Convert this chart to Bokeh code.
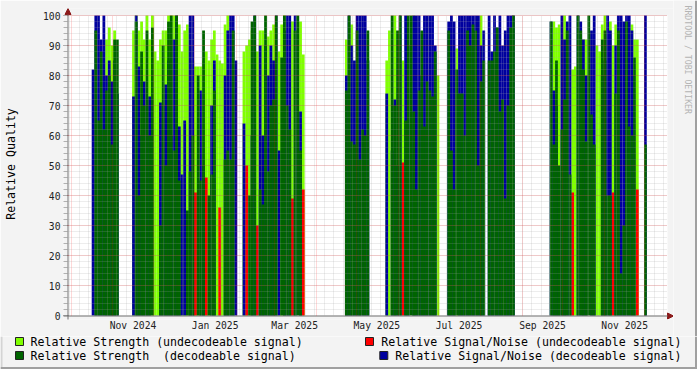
import numpy as np
import pandas as pd
from bokeh.plotting import figure
from bokeh.layouts import column, row
from bokeh.models import (Range1d, FixedTicker, DatetimeTickFormatter,
                          ColumnDataSource, BoxAnnotation, Arrow, NormalHead)
from bokeh.core.properties import value
from bokeh.embed import file_html
from bokeh.resources import INLINE

# ---------------- data ----------------
x_start = "2024-09-28 09:00"
x_end = "2025-12-17 19:00"
bin_days = 2

seg_start = ["2024-10-16 09:00", "2024-11-15 09:00", "2025-02-05 09:00",
             "2025-04-22 09:00", "2025-05-22 09:00", "2025-07-07 09:00",
             "2025-08-06 09:00", "2025-09-21 09:00", "2025-11-30 09:00"]
seg_bins = [10, 39, 23, 9, 20, 14, 10, 33, 1]

# Relative Strength (decodeable signal)
strength_dec = [
    0, 95, 65, 88, 62, 75, 80, 57, 92, 92,
    0, 98, 40, 88, 70, 95, 60, 96, 0, 0, 30, 90, 50, 98, 100, 55, 100, 45, 0, 0,
    35, 48, 60, 0, 80, 45, 95, 0, 40, 47, 75, 0, 0, 0, 52, 55, 52, 95, 0,
    0, 0, 40, 98, 100, 0, 42, 37, 100, 48, 70, 72, 100, 0, 86, 100, 70, 62, 0, 95, 100, 55, 0,
    75, 100, 58, 57, 95, 52, 62, 60, 95,
    0, 0, 100, 70, 95, 100, 0, 65, 100, 100, 68, 42, 75, 95, 63, 78, 75, 73, 88, 0,
    95, 55, 42, 82, 74, 74, 60, 95, 90, 97, 95, 50, 78, 85,
    85, 85, 88, 96, 68, 72, 39, 70, 96, 100,
    98, 57, 85, 50, 62, 72, 95, 47, 0, 0, 100, 95, 82, 58, 100, 67, 57, 0, 0, 92, 95, 40, 40, 0,
    74, 95, 14, 30, 98, 63, 60, 86, 0,
    57]

# Relative Signal/Noise (decodeable signal)
snr_dec = [
    82, 100, 100, 92, 100, 80, 85, 78, 85, 74,
    73, 100, 83, 60, 78, 70, 73, 0, 0, 0, 71, 70, 77, 85, 60, 92, 100, 63, 47, 65,
    0, 100, 100, 0, 0, 75, 50, 0, 0, 70, 85, 0, 0, 0, 80, 95, 100, 100, 85,
    64, 0, 0, 60, 100, 0, 90, 60, 90, 80, 90, 85, 100, 55, 0, 95, 100, 100, 0, 100, 0, 68, 0,
    80, 100, 90, 85, 100, 100, 100, 100, 85,
    74, 0, 55, 72, 50, 100, 0, 100, 90, 0, 100, 100, 100, 80, 100, 100, 100, 100, 90, 0,
    98, 100, 98, 0, 100, 100, 100, 100, 100, 100, 100, 100, 90, 95,
    100, 88, 100, 96, 100, 90, 95, 100, 100, 100,
    98, 75, 70, 45, 100, 92, 98, 100, 0, 0, 100, 98, 92, 80, 0, 95, 100, 0, 0, 80, 85, 100, 95, 0,
    90, 100, 100, 98, 100, 100, 95, 80, 0,
    100]

# Relative Strength (undecodeable signal)
strength_undec = [
    0, 0, 0, 0, 0, 92, 96, 90, 95, 0,
    95, 100, 95, 98, 92, 100, 92, 100, 88, 85, 92, 95, 95, 100, 100, 100, 100, 97, 88, 95,
    97, 90, 85, 83, 83, 83, 85, 88, 85, 92, 95, 87, 85, 84, 97, 100, 0, 0, 0,
    88, 90, 92, 95, 0, 88, 95, 95, 0, 93, 95, 97, 0, 88, 97, 100, 0, 0, 98, 0, 0, 98, 87,
    92, 0, 97, 0, 0, 97, 0, 0, 0,
    85, 95, 0, 100, 0, 0, 85, 0, 0, 0, 100, 0, 0, 0, 0, 0, 0, 0, 0, 80,
    0, 0, 0, 89, 0, 0, 0, 0, 0, 0, 0, 0, 100, 0,
    0, 0, 0, 0, 0, 0, 0, 0, 0, 0,
    0, 98, 96, 97, 0, 100, 0, 0, 82, 83, 0, 0, 92, 92, 0, 0, 0, 90, 88, 97, 100, 0, 98, 90,
    97, 0, 0, 0, 0, 0, 97, 92, 92,
    0]

# Relative Signal/Noise (undecodeable signal)
snr_undec = [
    0, 0, 0, 0, 0, 0, 0, 0, 0, 0,
    0, 0, 0, 0, 0, 0, 0, 0, 0, 0, 0, 0, 0, 0, 0, 0, 0, 0, 0, 0,
    0, 0, 0, 41, 0, 0, 0, 46, 0, 0, 0, 0, 36, 0, 0, 0, 0, 0, 0,
    0, 50, 0, 0, 0, 30, 0, 0, 0, 0, 0, 0, 0, 0, 0, 0, 0, 0, 39, 0, 0, 0, 42,
    0, 0, 0, 0, 0, 0, 0, 0, 0,
    0, 0, 0, 0, 0, 0, 51, 0, 0, 0, 0, 0, 0, 0, 0, 0, 0, 0, 0, 0,
    0, 0, 0, 0, 0, 0, 0, 0, 0, 0, 0, 0, 0, 0,
    0, 0, 0, 0, 0, 0, 0, 0, 0, 0,
    0, 0, 0, 0, 0, 0, 0, 0, 41, 0, 0, 0, 0, 0, 0, 0, 0, 0, 0, 0, 0, 0, 0, 41,
    0, 0, 0, 0, 0, 0, 0, 0, 42,
    0]

y_ticks = list(range(0, 101, 10))
x_label_months = ["2024-11-01", "2025-01-01", "2025-03-01", "2025-05-01",
                  "2025-07-01", "2025-09-01", "2025-11-01"]

series_labels = ["Relative Strength (undecodeable signal)",
                 "Relative Strength \u00a0(decodeable signal)",
                 "Relative Signal/Noise (undecodeable signal)",
                 "Relative Signal/Noise (decodeable signal)"]
credit_text = "RRDTOOL / TOBI OETIKER"
C_LIGHT = "#80FF00"
C_DARK = "#006400"
C_RED = "#FF0000"
C_BLUE = "#00009E"
BG = "#F3F3F3"
AXIS = "#6E6E6E"
SHADE_DARK = "#A0A0A0"
SHADE_LIGHT = "#D4D4D4"
MONO = "DejaVu Sans Mono"

# ---------------- helpers ----------------
def ms(t):
    return pd.Timestamp(t).value / 1e6

DAY = 86400000.0
centers = []
for s, n in zip(seg_start, seg_bins):
    t0 = ms(s)
    for k in range(n):
        centers.append(t0 + (k * bin_days + bin_days / 2) * DAY)
centers = np.array(centers)

x0, x1 = ms(x_start), ms(x_end)
PX = (x1 - x0) / 600.0          # ms per pixel of the 600 px data canvas
UY = 100.0 / 300.0              # value units per pixel

def strip(width, height):
    f = figure(width=width, height=height, x_range=Range1d(0, width),
               y_range=Range1d(height, 0), output_backend="svg",
               toolbar_location=None, min_border=0,
               x_axis_location=None, y_axis_location=None)
    if "frame_align" in f.properties():
        f.frame_align = False
    f.grid.visible = False
    f.outline_line_color = None
    f.background_fill_color = BG
    f.border_fill_color = BG
    return f

# ---------------- main plot ----------------
# the frame reaches a few px beyond the data canvas so axis lines/arrows fit
p = figure(width=673, height=336, x_axis_type="datetime",
           x_range=Range1d(x0 - 4 * PX, x1 + 6 * PX),
           y_range=Range1d(0 - 4 * UY, 100 + 7 * UY),
           output_backend="svg", toolbar_location=None,
           min_border_left=63, min_border_right=0,
           min_border_top=8, min_border_bottom=17)
if "frame_align" in p.properties():
    p.frame_align = False
p.background_fill_color = BG
p.border_fill_color = BG
p.outline_line_color = None
p.add_layout(BoxAnnotation(left=x0, right=x1, bottom=0, top=100,
                           fill_color="white", fill_alpha=1.0,
                           line_color=None, level="underlay"))

bw = bin_days * DAY * 1.03

def bars(vals, color):
    vals = np.array(vals, dtype=float)
    m = vals > 0
    src = ColumnDataSource(dict(x=centers[m], top=vals[m]))
    return p.vbar(x="x", top="top", bottom=0, width=bw, source=src,
                  fill_color=color, line_color=None)

bars(strength_undec, C_LIGHT)
bars(snr_undec, C_RED)
bars(snr_dec, C_BLUE)
bars(strength_dec, C_DARK)

# grid (drawn over the data, like rrdtool)
month_starts = [ms(d) for d in pd.date_range("2024-10-01", "2025-12-01", freq="MS")]
weeks = [ms(d) for d in pd.date_range("2024-09-30", "2025-12-15", freq="7D")]
p.xgrid.ticker = FixedTicker(ticks=month_starts, minor_ticks=weeks)
p.ygrid.ticker = FixedTicker(ticks=y_ticks[1:], minor_ticks=list(range(2, 101, 2)))
for g in (p.xgrid, p.ygrid):
    g.level = "overlay"
    g.grid_line_color = "#FF0000"
    g.grid_line_alpha = 0.3
    g.grid_line_dash = "1 1"
    g.minor_grid_line_color = "#A8A8A8"
    g.minor_grid_line_alpha = 0.4
    g.minor_grid_line_dash = "1 1"
gx, gy = p.xgrid[0], p.ygrid[0]
if "cross_bounds" in gx.properties():
    gx.cross_bounds = (0, 100)
    gy.cross_bounds = (x0, x1)

# axes (Bokeh axes give ticks/labels; lines drawn at the data origin below)
label_ticks = [ms(d) + 15 * DAY for d in x_label_months]
xa = p.xaxis[0]
xa.ticker = FixedTicker(ticks=label_ticks)
fmt = "%b %Y"
xa.formatter = DatetimeTickFormatter(years=fmt, months=fmt, days=fmt, hours=fmt,
                                     hourmin=fmt, minutes=fmt, minsec=fmt,
                                     seconds=fmt, milliseconds=fmt, microseconds=fmt)
xa.axis_line_color = None
xa.major_tick_line_color = None
xa.minor_tick_line_color = None
xa.major_tick_out = 0
xa.major_tick_in = 0
xa.major_label_standoff = 0

ya = p.yaxis[0]
ya.ticker = FixedTicker(ticks=y_ticks, minor_ticks=list(range(0, 101, 2)))
ya.axis_line_color = None
ya.major_tick_line_color = AXIS
ya.minor_tick_line_color = "#B0B0B0"
ya.major_tick_in = 5
ya.major_tick_out = 0
ya.minor_tick_in = 4
ya.minor_tick_out = 0
ya.major_label_standoff = 3
ya.axis_label = "Relative Quality"
ya.axis_label_text_font = MONO
ya.axis_label_text_font_size = "11.6px"
ya.axis_label_text_font_style = "normal"
ya.axis_label_text_color = "black"
ya.axis_label_standoff = 22

for a in (xa, ya):
    a.major_label_text_font = MONO
    a.major_label_text_font_size = "9.7px"
    a.major_label_text_color = "#222222"

# axis lines through the origin + arrows
hx = 0.5 * PX
hy = 0.5 * UY
p.segment(x0=[x0 - 4 * PX, x0 + hx], y0=[0 - hy, 0 - 4 * UY],
          x1=[x1, x0 + hx], y1=[0 - hy, 100],
          line_color=AXIS, line_width=1, level="overlay")
HEAD = "#8B1A1A"
p.add_layout(Arrow(end=NormalHead(size=6, fill_color=HEAD, line_color=HEAD),
                   x_start=x1, y_start=0 - hy, x_end=x1 + 6 * PX, y_end=0 - hy,
                   line_color=AXIS, line_width=1))
p.add_layout(Arrow(end=NormalHead(size=6, fill_color=HEAD, line_color=HEAD),
                   x_start=x0 + hx, y_start=100, x_end=x0 + hx, y_end=100 + 7 * UY,
                   line_color=AXIS, line_width=1))

# ---------------- right strip with the credit text ----------------
cr = strip(24, 336)
cr.x_range.start, cr.x_range.end = 673, 697
cr.text(x=[687.5], y=[5], text=[credit_text], angle=-np.pi / 2,
        text_font=value(MONO), text_font_size=value("8.2px"),
        text_align="left", text_baseline="middle", text_color="#B4B4B4")
cr.quad(left=[694.5], right=[697], top=[0], bottom=[336],
        fill_color=SHADE_DARK, line_color=None)

# ---------------- legend strip ----------------
lg = strip(697, 33)
sq_left = [15, 365, 15, 379.3]
sq_top = [1, 1, 15, 15]
sq_colors = [C_LIGHT, C_RED, C_DARK, C_BLUE]
lg.quad(left=sq_left, right=[v + 8 for v in sq_left], top=sq_top,
        bottom=[v + 8 for v in sq_top], fill_color=sq_colors,
        line_color="#222222", line_width=1)
lg.text(x=[30, 30], y=[5, 19], text=[series_labels[0], series_labels[1]],
        text_font=value(MONO), text_font_size=value("11.6px"),
        text_align="left", text_baseline="middle", text_color="black")
lg.text(x=[681, 681], y=[5, 19], text=[series_labels[2], series_labels[3]],
        text_font=value(MONO), text_font_size=value("11.6px"),
        text_align="right", text_baseline="middle", text_color="black")
lg.quad(left=[0], right=[2], top=[0], bottom=[33], fill_color=SHADE_LIGHT,
        line_color=None)
lg.quad(left=[0, 694.5], right=[697, 697], top=[30.5, 0], bottom=[33, 33],
        fill_color=SHADE_DARK, line_color=None)

layout = column(row(p, cr, spacing=0), lg, spacing=0)
open("out.html", "w").write(file_html(layout, INLINE))
